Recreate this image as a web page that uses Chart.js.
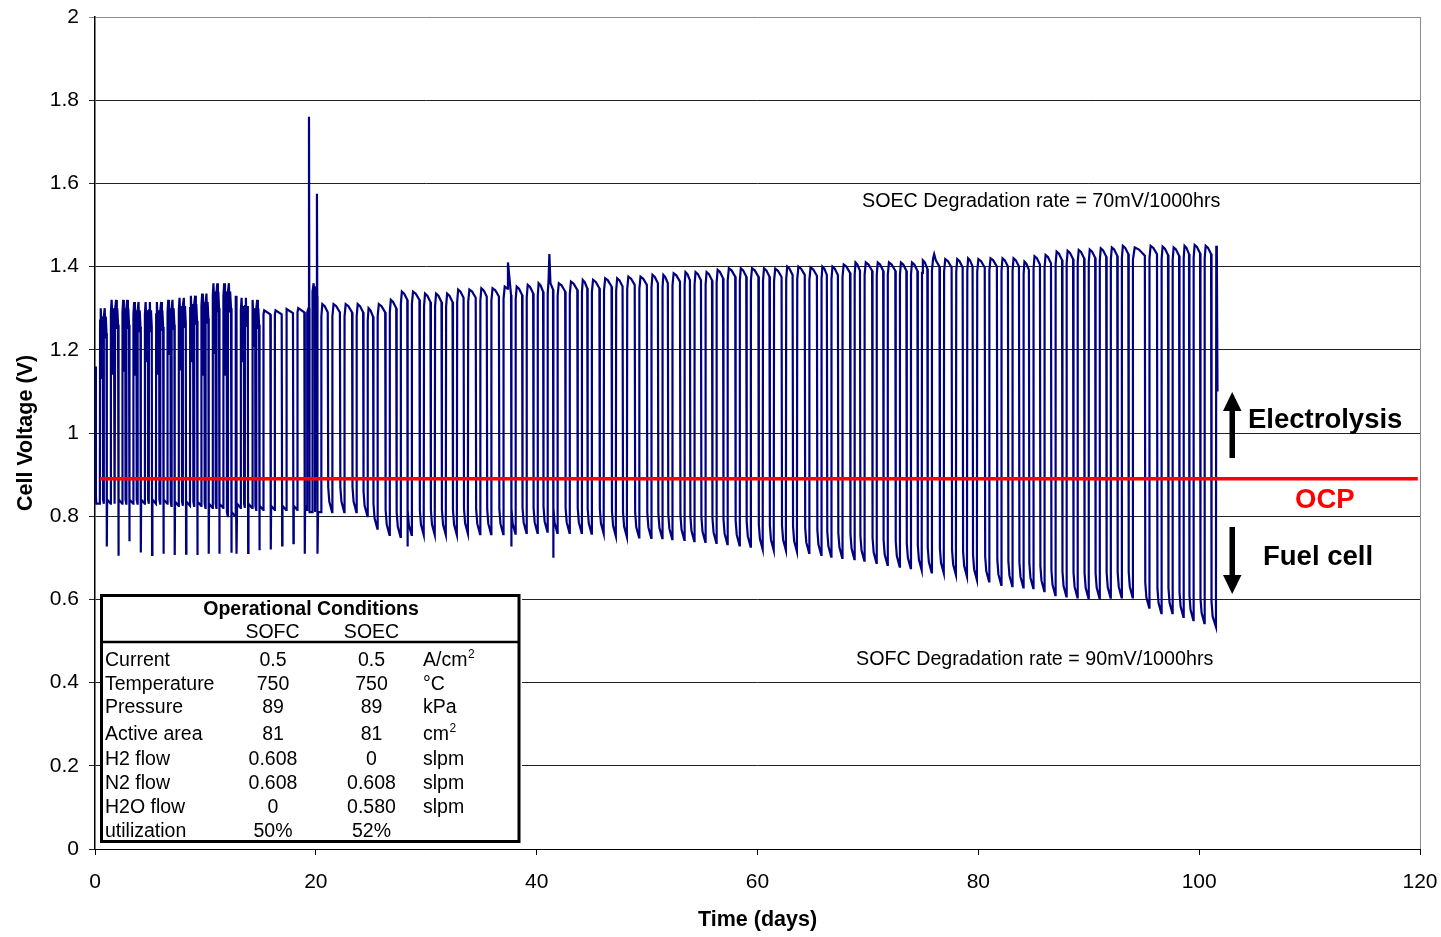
<!DOCTYPE html>
<html>
<head>
<title>Cell Voltage vs Time</title>
<script src="https://cdn.jsdelivr.net/npm/chart.js"></script>
<style>
  body { margin: 0; background: #fff; }
  #wrap { width: 1441px; height: 937px; }
</style>
</head>
<body>
<div id="wrap"><canvas id="chart" width="1441" height="937"></canvas></div>
<script>
// very first samples (day 0)
const startDays = [0.03, 0.08, 0.12, 0.44];
const startV = [1.16, 0.85, 0.83, 0.83];

// early period: daily cycling, deep fuel-cell dip at each listed day
const earlyDays = [1.06, 2.11, 3.10, 4.14, 5.16, 6.19, 7.21, 8.24, 9.26, 10.29, 11.25, 12.34, 12.83, 13.86, 14.88, 15.91, 16.94, 17.96, 18.99];
const earlyHigh = [1.30, 1.32, 1.32, 1.315, 1.315, 1.315, 1.32, 1.325, 1.33, 1.335, 1.36, 1.36, 1.33, 1.325, 1.32, 1.295, 1.295, 1.298, 1.30];
const earlyDip = [1.13, 1.14, 1.15, 1.14, 1.17, 1.14, 1.19, 1.15, 1.17, 1.14, 1.19, 1.14, 1.20, 1.17, 1.21, null, null, null, null];
const earlyLow = [0.83, 0.83, 0.83, 0.83, 0.83, 0.83, 0.825, 0.825, 0.825, 0.82, 0.82, 0.80, 0.82, 0.82, 0.815, 0.815, 0.815, 0.815, 0.815];
const earlyDeep = [0.727, 0.705, 0.74, 0.713, 0.707, 0.71, 0.707, 0.71, 0.707, 0.71, 0.71, 0.712, 0.71, 0.712, 0.718, 0.72, 0.73, 0.735, 0.71];

// disturbance around day 19-20
const transDays = [19.22, 19.34, 19.38, 19.41, 19.43, 19.68, 19.70, 19.80, 19.90, 19.93, 20.00, 20.02, 20.10, 20.13, 20.15, 20.20, 20.48];
const transV = [1.29, 1.30, 1.76, 1.30, 0.81, 0.81, 1.34, 1.36, 1.32, 0.81, 0.81, 1.35, 1.575, 1.33, 0.71, 0.81, 0.81];

// main cycling: day of switch from electrolysis to fuel cell, peak and low of that cycle
const dropDays = [21.1, 22.2, 23.3, 24.3, 25.2, 26.3, 27.3, 28.3, 29.4, 30.4,
                  31.4, 32.4, 33.4, 34.5, 35.5, 36.6, 37.7, 38.7, 39.7, 40.6,
                  41.5, 42.6, 43.7, 44.6, 45.7, 46.8, 47.8, 48.9, 50.0, 51.0,
                  51.9, 53.0, 53.9, 54.9, 55.9, 56.9, 58.0, 59.0, 60.1, 61.1,
                  62.2, 63.2, 64.3, 65.4, 66.3, 67.3, 68.4, 69.3, 70.4, 71.4,
                  72.5, 73.5, 74.5, 75.4, 76.5, 77.6, 78.6, 79.5, 80.6, 81.7,
                  82.7, 83.7, 84.6, 85.6, 86.6, 87.6, 88.6, 89.6, 90.6, 91.6,
                  92.6, 93.6, 95.1, 96.2, 97.2, 98.2, 99.1, 100.1, 101.1];
const highV = [1.31, 1.31, 1.31, 1.31, 1.30, 1.31, 1.32, 1.34, 1.34, 1.335,
               1.335, 1.335, 1.345, 1.345, 1.348, 1.348, 1.352, 1.352, 1.356, 1.36,
               1.365, 1.36, 1.364, 1.368, 1.368, 1.372, 1.372, 1.376, 1.376, 1.38,
               1.38, 1.384, 1.387, 1.387, 1.387, 1.392, 1.396, 1.396, 1.396, 1.396,
               1.395, 1.40, 1.40, 1.398, 1.40, 1.40, 1.405, 1.41, 1.41, 1.41,
               1.41, 1.41, 1.41, 1.415, 1.42, 1.418, 1.418, 1.42, 1.418, 1.42,
               1.42, 1.42, 1.412, 1.425, 1.428, 1.436, 1.438, 1.44, 1.441, 1.444,
               1.446, 1.45, 1.446, 1.45, 1.448, 1.446, 1.45, 1.452, 1.45];
const lowV = [0.81, 0.81, 0.81, 0.80, 0.77, 0.755, 0.75, 0.755, 0.755, 0.755,
              0.755, 0.755, 0.758, 0.757, 0.757, 0.757, 0.758, 0.76, 0.76, 0.763,
              0.76, 0.76, 0.76, 0.758, 0.758, 0.752, 0.75, 0.749, 0.748, 0.747,
              0.745, 0.743, 0.74, 0.738, 0.736, 0.733, 0.73, 0.727, 0.72, 0.718,
              0.718, 0.715, 0.712, 0.707, 0.703, 0.70, 0.697, 0.693, 0.688, 0.683,
              0.679, 0.675, 0.67, 0.665, 0.663, 0.659, 0.655, 0.647, 0.643, 0.635,
              0.632, 0.629, 0.627, 0.62, 0.61, 0.607, 0.605, 0.603, 0.603, 0.604,
              0.605, 0.605, 0.58, 0.567, 0.567, 0.558, 0.55, 0.543, 0.534];

// isolated spikes
const spikeDays = [12.85, 28.31, 37.4, 37.71, 41.15, 41.51, 76.0];
const spikeV = [0.71, 0.727, 1.41, 0.727, 1.43, 0.70, 1.43];

// last samples
const endDays = [101.55, 101.60, 101.66];
const endV = [1.45, 1.44, 1.10];

// open circuit potential line
const ocpDays = [0.45, 119.8];
const ocpV = [0.89, 0.89];

// operating conditions table
const condLabels = ['Current', 'Temperature', 'Pressure', 'Active area', 'H2 flow', 'N2 flow', 'H2O flow', 'utilization'];
const sofcVals = ['0.5', '750', '89', '81', '0.608', '0.608', '0', '50%'];
const soecVals = ['0.5', '750', '89', '81', '0', '0.608', '0.580', '52%'];
const condUnits = ['A/cm²', '°C', 'kPa', 'cm²', 'slpm', 'slpm', 'slpm', ''];

const FONT = '"Liberation Sans", Arial, sans-serif';

function buildSeries() {
  const pts = [];
  const add = (x, y) => pts.push({x: x, y: y});
  startDays.forEach((d, i) => add(d, startV[i]));
  let rise = startDays[startDays.length - 1] + 0.02;

  earlyDays.forEach((s, k) => {
    const H = earlyHigh[k], lo = earlyLow[k];
    const at = f => rise + f * (s - rise);
    if (earlyDip[k] !== null) {
      // jagged electrolysis band with a short fuel-cell step in the middle
      add(at(0), H - 0.03); add(at(0.1), H); add(at(0.2), H - 0.05);
      add(at(0.25), earlyDip[k]); add(at(0.3), H - 0.02); add(at(0.42), H - 0.06);
      add(at(0.45), lo + 0.01); add(at(0.55), lo); add(at(0.58), H - 0.02);
      add(at(0.7), H); add(at(0.8), H - 0.07); add(at(0.86), H - 0.02); add(at(0.97), H - 0.06);
    } else {
      add(at(0), H - 0.01); add(at(0.1), H); add(at(0.95), H - 0.01);
    }
    const next = k + 1 < earlyDays.length ? s + 0.38 : transDays[0];
    add(s + 0.01, earlyDeep[k]);
    add(s + 0.04, lo + 0.01);
    add(next - 0.02, lo);
    rise = next;
  });

  transDays.forEach((d, i) => add(d, transV[i]));
  rise = transDays[transDays.length - 1] + 0.02;

  dropDays.forEach((d, k) => {
    const P = highV[k], L = lowV[k], span = d - rise;
    add(rise, P - 0.03);
    add(rise + 0.15 * span, P);
    add(rise + 0.5 * span, P - 0.005);
    add(d - 0.02, P - 0.02);
    const next = k + 1 < dropDays.length ? d + 0.4 : endDays[0];
    add(d + 0.02, L + 0.06);
    add(d + 0.12, L + 0.025);
    add(next - 0.03, L);
    rise = next;
  });

  endDays.forEach((d, i) => add(d, endV[i]));
  spikeDays.forEach((d, i) => add(d, spikeV[i]));
  pts.sort((a, b) => a.x - b.x);
  return pts;
}

// frame, table and annotations
const extras = {
  id: 'extras',
  beforeDatasetsDraw(chart) {
    const {ctx, chartArea: a} = chart;
    ctx.save();
    ctx.strokeStyle = '#8c8c8c';
    ctx.lineWidth = 1;
    ctx.beginPath();
    ctx.moveTo(a.right + 0.5, a.top);
    ctx.lineTo(a.right + 0.5, a.bottom);
    ctx.stroke();
    ctx.restore();
  },
  afterDraw(chart) {
    const ctx = chart.ctx;
    ctx.save();

    // degradation notes
    ctx.fillStyle = '#000';
    ctx.font = '19.7px ' + FONT;
    ctx.textAlign = 'left';
    ctx.textBaseline = 'alphabetic';
    ctx.fillText('SOEC Degradation rate = 70mV/1000hrs', 862, 207);
    ctx.fillText('SOFC Degradation rate = 90mV/1000hrs', 856, 665);

    // mode labels
    ctx.font = 'bold 27.5px ' + FONT;
    ctx.fillText('Electrolysis', 1248, 428);
    ctx.fillText('Fuel cell', 1263, 565);
    ctx.fillStyle = '#ff0000';
    ctx.fillText('OCP', 1295, 508);

    // arrows
    ctx.fillStyle = '#000';
    ctx.fillRect(1229.5, 408, 5.5, 50);
    ctx.beginPath();
    ctx.moveTo(1223, 411); ctx.lineTo(1241.5, 411); ctx.lineTo(1232.2, 392); ctx.closePath();
    ctx.fill();
    ctx.fillRect(1229.5, 527, 5.5, 50);
    ctx.beginPath();
    ctx.moveTo(1223, 575); ctx.lineTo(1241.5, 575); ctx.lineTo(1232.2, 594); ctx.closePath();
    ctx.fill();

    // conditions table
    ctx.fillStyle = '#fff';
    ctx.fillRect(100, 594, 422, 249);
    ctx.strokeStyle = '#000';
    ctx.lineWidth = 3;
    ctx.strokeRect(101.5, 595.5, 417.5, 246);
    ctx.lineWidth = 2.5;
    ctx.beginPath();
    ctx.moveTo(101, 642); ctx.lineTo(519, 642);
    ctx.stroke();

    ctx.fillStyle = '#000';
    ctx.textAlign = 'center';
    ctx.font = 'bold 19.5px ' + FONT;
    ctx.fillText('Operational Conditions', 311, 615);
    ctx.font = '19.5px ' + FONT;
    ctx.fillText('SOFC', 272.5, 638);
    ctx.fillText('SOEC', 371.5, 638);

    const rowY = [666, 690, 713, 740, 765, 789, 813, 837];
    condLabels.forEach((lab, i) => {
      const y = rowY[i];
      ctx.font = '19.5px ' + FONT;
      ctx.textAlign = 'left';
      ctx.fillText(lab, 105, y);
      ctx.textAlign = 'center';
      ctx.fillText(sofcVals[i], 273, y);
      ctx.fillText(soecVals[i], 371.5, y);
      ctx.textAlign = 'left';
      const parts = condUnits[i].split('²');
      ctx.fillText(parts[0], 423, y);
      if (parts.length > 1) {
        const w = ctx.measureText(parts[0]).width;
        ctx.font = '12px ' + FONT;
        ctx.fillText('2', 423 + w + 0.5, y - 8);
      }
    });
    ctx.restore();
  }
};

const ctx = document.getElementById('chart').getContext('2d');
new Chart(ctx, {
  type: 'line',
  data: {
    datasets: [
      {
        label: 'OCP',
        data: ocpDays.map((d, i) => ({x: d, y: ocpV[i]})),
        borderColor: '#ff0000',
        borderWidth: 3.5,
        pointRadius: 0,
        tension: 0
      },
      {
        label: 'Cell voltage',
        data: buildSeries(),
        borderColor: '#000080',
        borderWidth: 2.2,
        pointRadius: 0,
        tension: 0
      }
    ]
  },
  options: {
    responsive: false,
    animation: false,
    devicePixelRatio: 1,
    layout: { autoPadding: false, padding: { left: 0, right: 21, top: 17, bottom: 0 } },
    plugins: { legend: { display: false }, tooltip: { enabled: false } },
    scales: {
      x: {
        type: 'linear',
        min: 0,
        max: 120,
        afterFit: s => { s.height = 88; s.paddingLeft = 0; s.paddingRight = 0; },
        ticks: { stepSize: 20, color: '#000', padding: 15, maxRotation: 0, font: { family: FONT, size: 21 } },
        grid: { drawOnChartArea: false, tickLength: 6, color: '#000' },
        border: { color: '#000', width: 1 },
        title: { display: true, text: 'Time (days)', color: '#000', padding: { top: 0, bottom: 4 }, font: { family: FONT, size: 21.5, weight: 'bold' } }
      },
      y: {
        min: 0,
        max: 2,
        afterFit: s => { s.width = 95; s.paddingTop = 0; s.paddingBottom = 0; },
        ticks: {
          stepSize: 0.2,
          color: '#000',
          padding: 10,
          font: { family: FONT, size: 21 },
          callback: v => String(+v.toFixed(1))
        },
        grid: { tickLength: 6, color: c => (c.tick && c.tick.value >= 1.99 ? '#8c8c8c' : '#222'), lineWidth: 1 },
        border: { color: '#000', width: 1.5 },
        title: { display: true, text: 'Cell Voltage (V)', color: '#000', padding: { top: 13, bottom: 0 }, font: { family: FONT, size: 21.5, weight: 'bold' } }
      }
    }
  },
  plugins: [extras]
});
</script>
</body>
</html>
